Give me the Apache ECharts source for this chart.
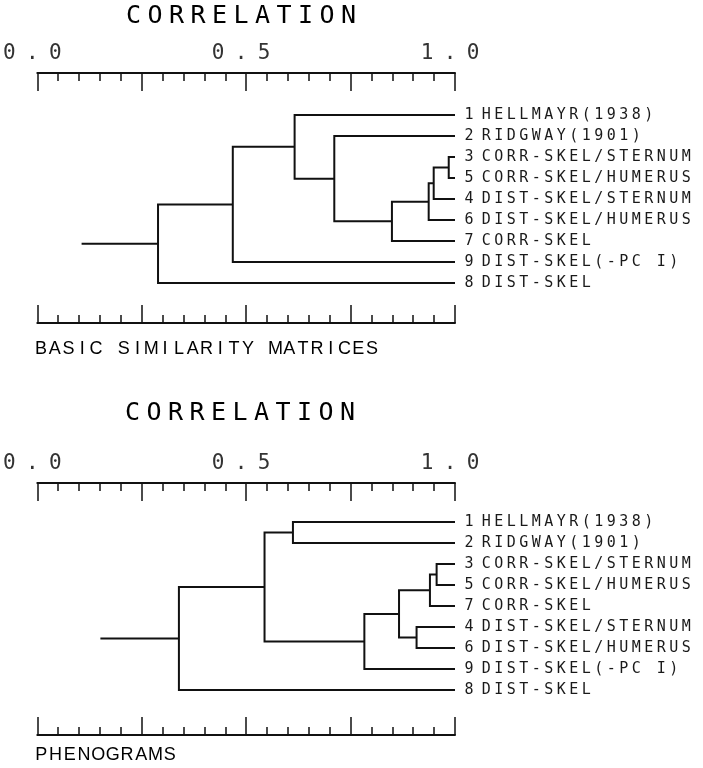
<!DOCTYPE html>
<html>
<head>
<meta charset="utf-8">
<script src="https://cdn.jsdelivr.net/npm/echarts@6/dist/echarts.min.js"></script>
<style>
  html, body { margin: 0; padding: 0; background: #fff; }
  #chart { width: 703px; height: 768px; }
</style>
</head>
<body>
<div id="chart"></div>
<script>
// correlation scale labels
var tickValues = [0, 0.5, 1];
var tickLabels = ['0.0', '0.5', '1.0'];

// top: basic similarity matrices (leaves top to bottom)
var leaves1 = ['1 HELLMAYR(1938)', '2 RIDGWAY(1901)', '3 CORR-SKEL/STERNUM', '5 CORR-SKEL/HUMERUS',
               '4 DIST-SKEL/STERNUM', '6 DIST-SKEL/HUMERUS', '7 CORR-SKEL', '9 DIST-SKEL(-PC I)', '8 DIST-SKEL'];
// clusters 0-8 are the leaves, 9.. are the joins in order
var joinA1 = [2, 9, 10, 11, 1, 0, 14, 15];
var joinB1 = [3, 4, 5, 6, 12, 13, 7, 8];
var joinLevel1 = [0.985, 0.949, 0.937, 0.849, 0.711, 0.616, 0.468, 0.289];
var rootLevel1 = 0.106;

// bottom: phenograms
var leaves2 = ['1 HELLMAYR(1938)', '2 RIDGWAY(1901)', '3 CORR-SKEL/STERNUM', '5 CORR-SKEL/HUMERUS',
               '7 CORR-SKEL', '4 DIST-SKEL/STERNUM', '6 DIST-SKEL/HUMERUS', '9 DIST-SKEL(-PC I)', '8 DIST-SKEL'];
var joinA2 = [2, 9, 5, 10, 12, 0, 14, 15];
var joinB2 = [3, 4, 6, 11, 7, 1, 13, 8];
var joinLevel2 = [0.956, 0.940, 0.908, 0.866, 0.783, 0.612, 0.544, 0.339];
var rootLevel2 = 0.151;

// each link: [childA level, childA row, childB level, childB row, join level]
function buildLinks(leaves, joinA, joinB, levels, root) {
    var lx = leaves.map(function () { return 1; });
    var ly = leaves.map(function (d, i) { return i; });
    var links = [];
    joinA.forEach(function (a, k) {
        var b = joinB[k];
        links.push([lx[a], ly[a], lx[b], ly[b], levels[k]]);
        lx.push(levels[k]);
        ly.push((ly[a] + ly[b]) / 2);
    });
    var last = lx.length - 1;
    links.push([lx[last], ly[last], lx[last], ly[last], root]);
    return links;
}

function spaced(text, key) {
    return text.split('').map(function (ch) { return '{' + key + '|' + ch + '}'; }).join('');
}

function leafLabel(leaves) {
    return function (v) {
        if (!Number.isInteger(v) || v < 0 || v >= leaves.length) return '';
        var s = leaves[v];
        var cut = s.indexOf(' ');
        return '{d|' + s.slice(0, cut) + '}{s| }' + spaced(s.slice(cut + 1), 'c');
    };
}

function tickLabel(v) {
    var i = tickValues.indexOf(Math.round(v * 100) / 100);
    return i < 0 ? '' : spaced(tickLabels[i], 'n');
}

function renderLink(params, api) {
    var a = api.coord([api.value(0), api.value(1)]);
    var b = api.coord([api.value(2), api.value(3)]);
    var px = api.coord([api.value(4), api.value(1)])[0];
    return {
        type: 'polyline',
        shape: { points: [a, [px, a[1]], [px, b[1]], b] },
        style: { stroke: '#111', lineWidth: 2, fill: 'none' }
    };
}

var leafRich = {
    d: { fontFamily: 'DejaVu Sans Mono', fontSize: 15, color: '#1a1a1a', width: 12, align: 'center' },
    s: { fontFamily: 'DejaVu Sans Mono', fontSize: 15, width: 5, align: 'center' },
    c: { fontFamily: 'DejaVu Sans Mono', fontSize: 15, color: '#1a1a1a', width: 12.5, align: 'center' }
};
var tickRich = {
    n: { fontFamily: 'DejaVu Sans Mono', fontSize: 21, color: '#333', width: 23, align: 'center' }
};

function scaleAxis(gridIndex, position, offset, showLabel) {
    return {
        type: 'value', gridIndex: gridIndex, position: position, offset: offset,
        min: 0, max: 1, interval: 0.25,
        axisLine: { onZero: false, lineStyle: { color: '#111', width: 2 } },
        axisTick: { inside: true, length: 18, lineStyle: { color: '#111', width: 1.5 } },
        minorTick: { show: true, splitNumber: 5, length: 8, lineStyle: { color: '#111', width: 1.5 } },
        splitLine: { show: false },
        axisLabel: { show: showLabel, margin: 9, padding: [0, 10, 0, 0], formatter: tickLabel, rich: tickRich }
    };
}

function rowAxis(gridIndex, leaves) {
    return {
        type: 'value', gridIndex: gridIndex, position: 'right', inverse: true,
        min: -2, max: 10, interval: 1,
        axisLine: { show: false }, axisTick: { show: false }, splitLine: { show: false },
        axisLabel: { margin: 8, formatter: leafLabel(leaves), rich: leafRich }
    };
}

function titleText(x, y, str, size, width, family, color) {
    var rich = { t: { fontFamily: family, fontSize: size, color: color, width: width, align: 'center' } };
    return { type: 'text', x: x, y: y, style: { text: spaced(str, 't'), rich: rich, align: 'center', verticalAlign: 'middle' } };
}

var option = {
    backgroundColor: '#fff',
    animation: false,
    grid: [
        { left: 36, right: 248, top: 73, height: 252 },
        { left: 36, right: 248, top: 480, height: 252 }
    ],
    xAxis: [
        scaleAxis(0, 'top', 0, true),
        scaleAxis(0, 'bottom', -2, false),
        scaleAxis(1, 'top', -3, true),
        scaleAxis(1, 'bottom', 3, false)
    ],
    yAxis: [rowAxis(0, leaves1), rowAxis(1, leaves2)],
    graphic: [
        titleText(241, 16, 'CORRELATION', 25, 21.5, 'DejaVu Sans Mono', '#333'),
        titleText(240, 413, 'CORRELATION', 25, 21.5, 'DejaVu Sans Mono', '#333'),
        { type: 'text', x: 34, y: 349, style: { text: spaced('BASIC SIMILARITY MATRICES', 't'), verticalAlign: 'middle',
            rich: { t: { fontFamily: 'Liberation Sans', fontSize: 18, color: '#111', width: 13.8, align: 'center' } } } },
        { type: 'text', x: 34, y: 755, style: { text: spaced('PHENOGRAMS', 't'), verticalAlign: 'middle',
            rich: { t: { fontFamily: 'Liberation Sans', fontSize: 18, color: '#111', width: 14.3, align: 'center' } } } }
    ],
    series: [
        {
            type: 'custom', xAxisIndex: 0, yAxisIndex: 0, silent: true,
            renderItem: renderLink,
            data: buildLinks(leaves1, joinA1, joinB1, joinLevel1, rootLevel1)
        },
        {
            type: 'custom', xAxisIndex: 2, yAxisIndex: 1, silent: true,
            renderItem: renderLink,
            data: buildLinks(leaves2, joinA2, joinB2, joinLevel2, rootLevel2)
        }
    ]
};

var myChart = echarts.init(document.getElementById('chart'));
myChart.setOption(option);
</script>
</body>
</html>
